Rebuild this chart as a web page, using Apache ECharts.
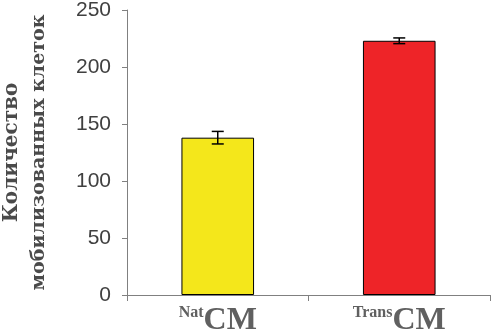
<!DOCTYPE html>
<html>
<head>
<meta charset="utf-8">
<script src="https://cdn.jsdelivr.net/npm/echarts@6/dist/echarts.min.js"></script>
<style>
  html, body { margin: 0; padding: 0; background: #fff; }
  #chart { width: 491px; height: 336px; }
</style>
</head>
<body>
<div id="chart"></div>
<script>
const categories = ['Nat', 'Trans'];
const means = [138, 223];
const errors = [5.5, 2.5];
const barColors = ['#f4e71b', '#ee2428'];

const chart = echarts.init(document.getElementById('chart'));

const option = {
  animation: false,
  backgroundColor: '#fff',
  grid: { left: 127, right: 1, top: 10, bottom: 41, outerBoundsMode: 'none', containLabel: false },
  xAxis: {
    type: 'category',
    data: categories,
    axisLine: { lineStyle: { color: '#808080', width: 1 } },
    axisTick: { show: true, length: 6, interval: 0, lineStyle: { color: '#808080' } },
    axisLabel: {
      margin: 10,
      formatter: function (v) { return '{sup|' + v + '}{big|CM}'; },
      rich: {
        sup: { fontFamily: 'Liberation Serif', fontWeight: 'bold', fontSize: 16, color: '#606060', verticalAlign: 'top', padding: [0, 0, 10, 0] },
        big: { fontFamily: 'Liberation Serif', fontWeight: 'bold', fontSize: 32, color: '#606060' }
      }
    }
  },
  yAxis: {
    type: 'value',
    min: 0,
    max: 250,
    interval: 50,
    axisLine: { show: true, lineStyle: { color: '#808080' } },
    axisTick: { show: true, length: 5, lineStyle: { color: '#808080' } },
    splitLine: { show: false },
    axisLabel: { fontFamily: 'Liberation Sans', fontSize: 21, color: '#404040', margin: 16 },
    name: '{a|Количество}\n{b|мобилизованных клеток}',
    nameLocation: 'middle',
    nameRotate: 90,
    nameGap: 74,
    nameTextStyle: {
      rich: {
        a: { fontFamily: 'DejaVu Serif', fontWeight: 'bold', fontSize: 20, color: '#4a4a4a', lineHeight: 28 },
        b: { fontFamily: 'DejaVu Serif', fontWeight: 'bold', fontSize: 19, color: '#4a4a4a', lineHeight: 27 }
      }
    }
  },
  series: [
    {
      type: 'bar',
      barWidth: '40%',
      data: means.map((v, i) => ({
        value: v,
        itemStyle: { color: barColors[i], borderColor: '#000', borderWidth: 1 }
      }))
    },
    {
      type: 'custom',
      data: means.map((v, i) => [i, v - errors[i], v + errors[i]]),
      renderItem: function (params, api) {
        const lo = api.coord([api.value(0), api.value(1)]);
        const hi = api.coord([api.value(0), api.value(2)]);
        const hw = 6;
        const style = { stroke: '#000', lineWidth: 1.5 };
        return {
          type: 'group',
          children: [
            { type: 'line', shape: { x1: hi[0], y1: hi[1], x2: lo[0], y2: lo[1] }, style: style },
            { type: 'line', shape: { x1: hi[0] - hw, y1: hi[1], x2: hi[0] + hw, y2: hi[1] }, style: style },
            { type: 'line', shape: { x1: lo[0] - hw, y1: lo[1], x2: lo[0] + hw, y2: lo[1] }, style: style }
          ]
        };
      },
      z: 10
    }
  ]
};

chart.setOption(option);
</script>
</body>
</html>
